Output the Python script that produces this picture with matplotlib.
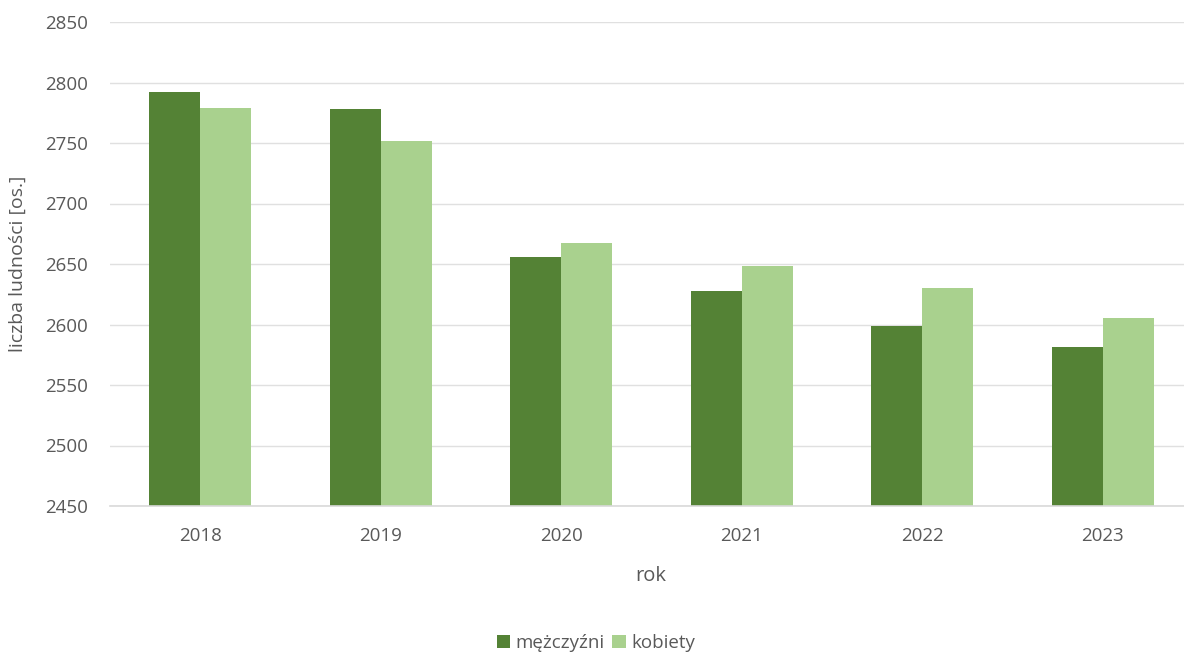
import matplotlib
matplotlib.use('Agg')
import matplotlib.pyplot as plt
import numpy as np

years = ['2018', '2019', '2020', '2021', '2022', '2023']
men = [2792, 2778, 2656, 2628, 2599, 2581]
women = [2779, 2752, 2667, 2648, 2630, 2605]

plt.rcParams['font.family'] = ['Open Sans', 'DejaVu Sans']
grey = '#595959'

fig = plt.figure(figsize=(11.84, 6.56), dpi=100)
ax = fig.add_axes([110/1184, 150/656, 1 - 110/1184, (506-22)/656])

x = np.arange(len(years))
w = 0.283
b1 = ax.bar(x - w/2, np.array(men) - 2450, w, bottom=2450, color='#548235', label='mężczyźni', zorder=3)
b2 = ax.bar(x + w/2, np.array(women) - 2450, w, bottom=2450, color='#a9d18e', label='kobiety', zorder=3)

ax.set_ylim(2450, 2850)
ax.set_yticks(range(2450, 2851, 50))
ax.set_xlim(-0.5, 5.45)
ax.set_xticks(x)
ax.set_xticklabels(years)
ax.grid(axis='y', color='#e0e0e0', linewidth=1.0, zorder=0)
for s in ax.spines.values():
    s.set_visible(False)
ax.spines['bottom'].set_visible(True)
ax.spines['bottom'].set_color('#d9d9d9')
ax.spines['bottom'].set_linewidth(1.2)
ax.spines['bottom'].set_zorder(4)
ax.tick_params(length=0, labelsize=13.5, colors=grey, pad=15)
ax.tick_params(axis='y', pad=16)

fig.text(651/1184, 1 - 576/656, 'rok', ha='center', va='center', fontsize=14.5, color=grey)
fig.text(18/1184, 1 - 264/656, 'liczba ludności [os.]', ha='center', va='center',
         rotation=90, fontsize=14, color=grey)
fig.legend(handles=[b1, b2], loc='center', bbox_to_anchor=(596/1184, 1 - 643/656), ncol=2,
           frameon=False, fontsize=13.5, labelcolor=grey, handlelength=0.7, handleheight=0.7,
           handletextpad=0.3, columnspacing=0.4)

fig.savefig('out.png', dpi=100)
